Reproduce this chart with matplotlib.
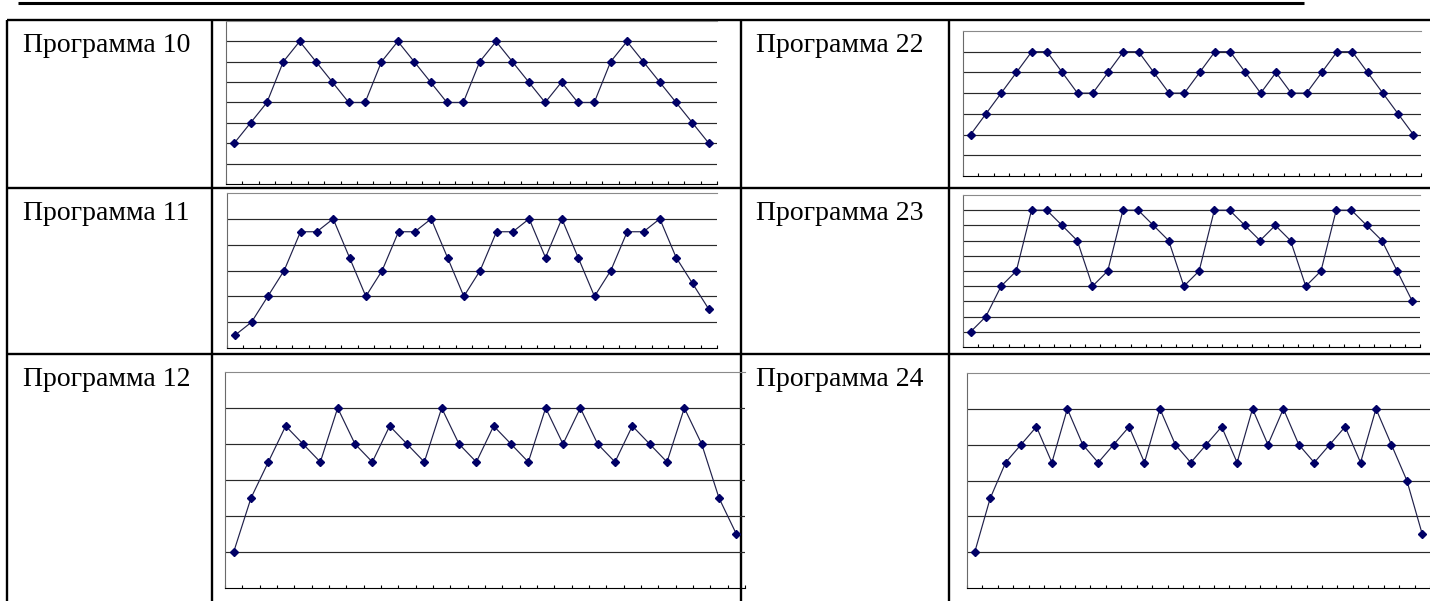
import numpy as np
import matplotlib
matplotlib.use('Agg')
import matplotlib.pyplot as plt

# values (30 points per program)
p10 = [2, 3, 4, 6, 7, 6, 5, 4, 4, 6, 7, 6, 5, 4, 4, 6, 7, 6, 5, 4, 5, 4, 4, 6, 7, 6, 5, 4, 3, 2]
p11 = [0.5, 1, 2, 3, 4.5, 4.5, 5, 3.5, 2, 3, 4.5, 4.5, 5, 3.5, 2, 3, 4.5, 4.5, 5, 3.5,
       5, 3.5, 2, 3, 4.5, 4.5, 5, 3.5, 2.5, 1.5]
p12 = [1, 2.5, 3.5, 4.5, 4, 3.5, 5, 4, 3.5, 4.5, 4, 3.5, 5, 4, 3.5, 4.5, 4, 3.5, 5, 4,
       5, 4, 3.5, 4.5, 4, 3.5, 5, 4, 2.5, 1.5]
p22 = [2, 3, 4, 5, 6, 6, 5, 4, 4, 5, 6, 6, 5, 4, 4, 5, 6, 6, 5, 4, 5, 4, 4, 5, 6, 6, 5, 4, 3, 2]
p23 = [1, 2, 4, 5, 9, 9, 8, 7, 4, 5, 9, 9, 8, 7, 4, 5, 9, 9, 8, 7, 8, 7, 4, 5, 9, 9, 8, 7, 5, 3]
p24 = [1, 2.5, 3.5, 4, 4.5, 3.5, 5, 4, 3.5, 4, 4.5, 3.5, 5, 4, 3.5, 4, 4.5, 3.5, 5, 4,
       5, 4, 3.5, 4, 4.5, 3.5, 5, 4, 3, 1.5]

labels = ['Программа 10', 'Программа 11', 'Программа 12',
          'Программа 22', 'Программа 23', 'Программа 24']
series = [p10, p11, p12, p22, p23, p24]
y_max = [8, 6, 6, 7, 10, 6]

W, H = 1430, 601
# chart boxes in pixels: x0, x1, y0 (top), y1 (bottom)
boxes = [(226, 717, 21, 184), (227, 717, 193, 348), (225, 745, 372, 588),
         (963, 1421, 31, 176), (963, 1420, 195, 347), (967, 1430, 373, 588)]
label_pos = [(23, 52), (23, 220), (23, 386), (756, 52), (756, 220), (756, 386)]

fig = plt.figure(figsize=(W / 100, H / 100), dpi=100)
fig.patch.set_facecolor('white')

# table and rule
bg = fig.add_axes([0, 0, 1, 1])
bg.set_xlim(0, W)
bg.set_ylim(H, 0)
bg.axis('off')
bg.plot([18, 1304], [3, 3], color='black', lw=2.2, solid_capstyle='butt')
for y in [20, 188, 354]:
    bg.plot([7, W], [y, y], color='black', lw=1.7, solid_capstyle='butt')
for x in [7, 212, 741, 949]:
    bg.plot([x, x], [20, H], color='black', lw=1.7, solid_capstyle='butt')

for (tx, ty), lab in zip(label_pos, labels):
    bg.text(tx, ty, lab, fontsize=20, family='Liberation Serif',
            ha='left', va='baseline', color='black')

for vals, top, (x0, x1, y0, y1) in zip(series, y_max, boxes):
    ax = fig.add_axes([x0 / W, 1 - y1 / H, (x1 - x0) / W, (y1 - y0) / H])
    ax.patch.set_alpha(0)
    n = len(vals)
    x = np.arange(n)
    ax.plot(x, vals, color='#20204a', lw=0.85, marker='D', ms=4.0,
            mfc='#000066', mec='#000066', zorder=3)
    ax.set_xlim(-0.5, n - 0.5)
    ax.set_ylim(0, top)
    ax.set_xticks(np.arange(-0.5, n, 1))
    ax.set_yticks(np.arange(1, top))
    ax.yaxis.grid(True, color='#2a2a2a', lw=0.85)
    ax.set_axisbelow(True)
    ax.tick_params(axis='x', direction='in', length=2.5, width=0.8,
                   color='black', labelbottom=False)
    ax.tick_params(axis='y', length=0, labelleft=False)
    ax.spines['right'].set_visible(False)
    ax.spines['top'].set_color('#8a8a8a')
    ax.spines['top'].set_linewidth(0.8)
    ax.spines['left'].set_color('#6a6a6a')
    ax.spines['left'].set_linewidth(0.8)
    ax.spines['bottom'].set_color('black')
    ax.spines['bottom'].set_linewidth(0.8)

fig.savefig('out.png', dpi=100)
